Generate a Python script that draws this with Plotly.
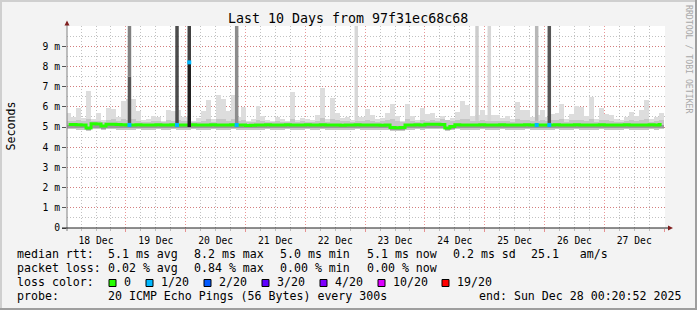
import pandas as pd
import plotly.graph_objects as go

# ---------------- data ----------------
title_text = "Last 10 Days from 97f31ec68c68"
t_start = "2025-12-18 00:20:52"
t_end = "2025-12-28 00:20:52"
first_bin = "2025-12-18 01:00"
bin_hours = 2

# upper envelope of the smoke (ms), one value per 2-hour bin
p_max = [
    5.68, 5.5, 5.95, 5.45, 6.8, 5.4, 5.7, 5.35, 5.95, 5.88, 5.5, 6.3, 6.4, 6.37, 5.8, 5.35, 5.4, 5.55, 5.5, 5.3, 5.85, 5.8, 5.85, 5.5,
    5.5, 5.3, 5.45, 5.8, 6.34, 5.4, 6.58, 6.37, 5.79, 6.58, 5.5, 6.0, 5.3, 5.4, 6.04, 5.55, 5.35, 5.3, 5.5, 5.4, 5.3, 6.75, 5.35, 5.45,
    5.4, 5.35, 5.6, 6.91, 5.4, 6.42, 5.7, 5.45, 5.5, 5.35, 5.5, 5.5, 5.88, 5.6, 5.4, 5.45, 5.7, 6.14, 5.55, 5.3, 6.14, 5.55, 5.35, 5.93,
    5.65, 5.7, 5.45, 5.55, 5.3, 5.45, 5.75, 6.3, 6.09, 5.55, 5.6, 5.84, 5.6, 5.6, 5.6, 5.45, 5.55, 5.4, 6.25, 5.84, 5.84, 5.5, 5.6, 5.84,
    5.5, 5.65, 5.7, 6.12, 5.4, 5.65, 6.04, 5.98, 5.55, 6.47, 5.4, 5.93, 5.65, 5.6, 5.4, 5.35, 5.5, 5.75, 5.55, 5.84, 6.34, 5.4, 5.5, 5.68,
]
# top of the denser smoke band (ms)
p_q3 = [
    5.3, 5.28, 5.35, 5.3, 5.4, 5.3, 5.32, 5.25, 5.35, 5.38, 5.3, 5.4, 5.36, 5.4, 5.3, 5.25, 5.27, 5.3, 5.3, 5.24, 5.33, 5.32, 5.35, 5.28,
    5.3, 5.24, 5.27, 5.32, 5.38, 5.27, 5.4, 5.4, 5.32, 5.42, 5.3, 5.35, 5.24, 5.26, 5.35, 5.3, 5.25, 5.24, 5.3, 5.27, 5.24, 5.4, 5.25, 5.28,
    5.27, 5.25, 5.32, 5.45, 5.27, 5.4, 5.33, 5.28, 5.3, 5.25, 5.3, 5.3, 5.36, 5.32, 5.27, 5.28, 5.33, 5.38, 5.3, 5.24, 5.38, 5.3, 5.26, 5.36,
    5.32, 5.33, 5.28, 5.4, 5.35, 5.3, 5.35, 5.4, 5.38, 5.3, 5.32, 5.36, 5.32, 5.32, 5.32, 5.28, 5.3, 5.27, 5.4, 5.36, 5.36, 5.3, 5.32, 5.36,
    5.3, 5.33, 5.33, 5.38, 5.27, 5.33, 5.37, 5.36, 5.3, 5.4, 5.27, 5.36, 5.33, 5.32, 5.27, 5.25, 5.3, 5.34, 5.3, 5.36, 5.4, 5.27, 5.3, 5.33,
]
# median rtt (ms)
median_rtt = [
    5.12, 5.12, 5.11, 5.1, 4.95, 5.16, 5.15, 5.05, 5.14, 5.13, 5.12, 5.11, 5.1, 5.1, 5.11, 5.1, 5.1, 5.1, 5.11, 5.1, 5.1, 5.11, 5.1, 5.1,
    5.1, 5.11, 5.1, 5.1, 5.1, 5.11, 5.1, 5.1, 5.1, 5.11, 5.1, 5.1, 5.08, 5.09, 5.1, 5.1, 5.11, 5.1, 5.1, 5.1, 5.11, 5.1, 5.1, 5.1,
    5.11, 5.1, 5.1, 5.11, 5.1, 5.1, 5.1, 5.09, 5.1, 5.1, 5.11, 5.1, 5.1, 5.1, 5.1, 5.09, 5.1, 4.97, 4.96, 4.97, 5.1, 5.1, 5.11, 5.1,
    5.13, 5.14, 5.13, 5.12, 4.95, 5.02, 5.11, 5.1, 5.1, 5.1, 5.1, 5.11, 5.1, 5.1, 5.1, 5.11, 5.1, 5.1, 5.1, 5.1, 5.11, 5.1, 5.1, 5.1,
    5.1, 5.1, 5.11, 5.1, 5.1, 5.1, 5.11, 5.1, 5.1, 5.1, 5.1, 5.11, 5.1, 5.1, 5.1, 5.1, 5.11, 5.1, 5.1, 5.1, 5.1, 5.11, 5.1, 5.12,
]
# lower edge of the dense band just below the median (ms)
p_low = [
    4.96, 4.96, 4.95, 4.95, 4.84, 4.97, 4.96, 4.92, 4.96, 4.96, 4.95, 4.95, 4.95, 4.95, 4.96, 4.95, 4.95, 4.95, 4.96, 4.95, 4.95, 4.96, 4.95, 4.95,
    4.95, 4.96, 4.95, 4.95, 4.95, 4.96, 4.95, 4.95, 4.95, 4.96, 4.95, 4.95, 4.93, 4.94, 4.95, 4.95, 4.96, 4.95, 4.95, 4.95, 4.96, 4.95, 4.95, 4.95,
    4.96, 4.95, 4.95, 4.96, 4.95, 4.95, 4.95, 4.94, 4.95, 4.95, 4.96, 4.95, 4.95, 4.95, 4.95, 4.94, 4.95, 4.86, 4.85, 4.86, 4.95, 4.95, 4.96, 4.95,
    4.97, 4.97, 4.97, 4.96, 4.84, 4.9, 4.96, 4.95, 4.95, 4.95, 4.95, 4.96, 4.95, 4.95, 4.95, 4.96, 4.95, 4.95, 4.95, 4.95, 4.96, 4.95, 4.95, 4.95,
    4.95, 4.95, 4.96, 4.95, 4.95, 4.95, 4.96, 4.95, 4.95, 4.95, 4.95, 4.96, 4.95, 4.95, 4.95, 4.95, 4.96, 4.95, 4.95, 4.95, 4.95, 4.96, 4.95, 4.96,
]
# lowest ping (ms)
p_min = [
    4.88, 4.88, 4.87, 4.87, 4.78, 4.89, 4.88, 4.84, 4.88, 4.88, 4.87, 4.87, 4.87, 4.87, 4.88, 4.87, 4.87, 4.87, 4.88, 4.87, 4.87, 4.88, 4.87, 4.87,
    4.87, 4.88, 4.87, 4.87, 4.87, 4.88, 4.87, 4.87, 4.87, 4.88, 4.87, 4.87, 4.85, 4.86, 4.87, 4.87, 4.88, 4.87, 4.87, 4.87, 4.88, 4.87, 4.87, 4.87,
    4.88, 4.87, 4.87, 4.88, 4.87, 4.87, 4.87, 4.86, 4.87, 4.87, 4.88, 4.87, 4.87, 4.87, 4.87, 4.86, 4.87, 4.8, 4.79, 4.8, 4.87, 4.87, 4.88, 4.87,
    4.89, 4.89, 4.89, 4.88, 4.78, 4.83, 4.88, 4.87, 4.87, 4.87, 4.87, 4.88, 4.87, 4.87, 4.87, 4.88, 4.87, 4.87, 4.87, 4.87, 4.88, 4.87, 4.87, 4.87,
    4.87, 4.87, 4.88, 4.87, 4.87, 4.87, 4.88, 4.87, 4.87, 4.87, 4.87, 4.88, 4.87, 4.87, 4.87, 4.87, 4.88, 4.87, 4.87, 4.87, 4.87, 4.88, 4.87, 4.88,
]

# short high-latency episodes: time, lower / upper rtt (ms), pings in that range
spike_time = ["2025-12-19 01:25", "2025-12-19 01:25", "2025-12-19 20:30", "2025-12-20 01:25",
              "2025-12-20 01:25", "2025-12-20 20:27", "2025-12-22 20:27", "2025-12-24 20:54",
              "2025-12-25 01:50", "2025-12-25 20:51", "2025-12-26 01:55"]
spike_low = [5.2, 7.5, 5.2, 5.0, 8.2, 5.2, 5.3, 5.3, 5.3, 5.3, 5.2]
spike_high = [7.5, 10.5, 10.5, 8.2, 10.5, 10.5, 10.5, 10.5, 10.5, 10.5, 10.5]
spike_pings = [13, 9, 14, 18, 15, 8, 1, 2, 1, 4, 13]

# intervals with packet loss: time, median rtt (ms), lost pings of 20
loss_time = ["2025-12-19 01:25", "2025-12-19 20:30", "2025-12-20 01:25",
             "2025-12-20 20:27", "2025-12-25 20:51", "2025-12-26 01:55"]
loss_rtt = [5.1, 5.1, 8.2, 5.1, 5.1, 5.1]
loss_count = [1, 1, 1, 1, 1, 1]

y_tick_vals = [0, 1, 2, 3, 4, 5, 6, 7, 8, 9]
y_tick_text = ["0", "1 m", "2 m", "3 m", "4 m", "5 m", "6 m", "7 m", "8 m", "9 m"]

legend_loss = [0, 1, 2, 3, 4, 10, 19]
legend_labels = ["0", "1/20", "2/20", "3/20", "4/20", "10/20", "19/20"]
rtt_stats = ["5.1 ms avg", "8.2 ms max", "5.0 ms min", "5.1 ms now", "0.2 ms sd", "25.1   am/s"]
loss_stats = ["0.02 % avg", "0.84 % max", "0.00 % min", "0.00 % now"]
probe_text = "20 ICMP Echo Pings (56 Bytes) every 300s"
end_text = "end: Sun Dec 28 00:20:52 2025"

# ---------------- styling ----------------
W, H = 697, 310
PL, PR, PT, PB = 67, 665, 26, 228
MONO = "DejaVu Sans Mono"
loss_palette = {0: "#26ff00", 1: "#00b8ff", 2: "#0059ff", 3: "#5e00ff",
                4: "#7e00ff", 10: "#dd00ff", 19: "#ff0000"}
MGRID = "rgba(222,80,80,0.6)"
GRID = "rgba(143,143,143,0.55)"
ARROW = "#801f1f"


def fx(p):
    return (p - PL) / (PR - PL)


def fy(p):
    return (PB - p) / (PB - PT)


def nb(s):
    return s.replace(" ", "\u00a0")


fig = go.Figure()

bins = pd.date_range(first_bin, periods=len(median_rtt), freq=f"{bin_hours}h")
bw = bin_hours * 3600 * 1000


def band(lo, hi, color):
    return go.Bar(x=bins, y=[h - l for l, h in zip(lo, hi)], base=lo, width=bw,
                  marker=dict(color=color, line=dict(width=0)), opacity=1,
                  hoverinfo="skip", showlegend=False)


fig.add_trace(band(p_min, p_max, "#dddddd"))
fig.add_trace(band(p_min, p_q3, "#c6c6c6"))
fig.add_trace(band(p_low, median_rtt, "#9a9a9a"))

fig.add_trace(go.Scatter(x=bins, y=median_rtt, mode="lines",
                         line=dict(color=loss_palette[0], width=3, shape="hvh"),
                         hoverinfo="skip", showlegend=False))

half = pd.Timedelta(minutes=42)
for t, lo, hi, n in zip(spike_time, spike_low, spike_high, spike_pings):
    t = pd.Timestamp(t)
    g = int(round(226 - 10.8 * n))
    fig.add_trace(go.Scatter(x=[t - half, t + half, t + half, t - half, t - half],
                             y=[lo, lo, hi, hi, lo], mode="lines", fill="toself",
                             fillcolor=f"rgb({g},{g},{g})", line=dict(width=0),
                             hoverinfo="skip", showlegend=False))

fig.add_trace(go.Scatter(x=pd.to_datetime(loss_time), y=loss_rtt, mode="markers",
                         marker=dict(symbol="square", size=4,
                                     color=[loss_palette[c] for c in loss_count],
                                     line=dict(width=0)),
                         hoverinfo="skip", showlegend=False))

fig.update_layout(
    width=W, height=H,
    margin=dict(l=PL, r=W - PR, t=PT, b=H - PB, pad=0),
    paper_bgcolor="#f3f3f3", plot_bgcolor="#ffffff",
    barmode="overlay", bargap=0, showlegend=False,
    font=dict(family=MONO, size=9.7, color="#000000"),
)

fig.update_xaxes(
    type="date", range=[t_start, t_end],
    tick0="2025-12-18", dtick=86400000, ticklabelmode="period", tickformat="%d %b",
    showgrid=True, gridcolor=MGRID, griddash="1px,2px", gridwidth=1,
    ticks="outside", ticklen=3, tickcolor=MGRID, tickwidth=1,
    minor=dict(dtick=6 * 3600 * 1000, showgrid=True, gridcolor=GRID, griddash="1px,2px",
               ticks="outside", ticklen=2, tickcolor=GRID),
    showline=False, zeroline=False, fixedrange=True,
    tickfont=dict(family=MONO, size=9.7),
)
fig.update_yaxes(
    range=[0, 10], tickmode="array", tickvals=y_tick_vals, ticktext=y_tick_text,
    showgrid=True, gridcolor=MGRID, griddash="1px,2px", gridwidth=1,
    ticks="outside", ticklen=4, tickcolor="#555555", tickwidth=1,
    minor=dict(tickmode="linear", tick0=0, dtick=0.5, showgrid=True, gridcolor=GRID,
               griddash="1px,2px"),
    showline=False, zeroline=False, fixedrange=True,
    tickfont=dict(family=MONO, size=9.7),
)

shapes = []
# frame
shapes.append(dict(type="rect", xref="paper", yref="paper", x0=fx(0), x1=fx(W), y0=fy(0), y1=fy(2),
                   fillcolor="#cfcfcf", line=dict(width=0), layer="above"))
shapes.append(dict(type="rect", xref="paper", yref="paper", x0=fx(0), x1=fx(2), y0=fy(0), y1=fy(H),
                   fillcolor="#cfcfcf", line=dict(width=0), layer="above"))
shapes.append(dict(type="rect", xref="paper", yref="paper", x0=fx(0), x1=fx(W), y0=fy(H - 2), y1=fy(H),
                   fillcolor="#9e9e9e", line=dict(width=0), layer="above"))
shapes.append(dict(type="rect", xref="paper", yref="paper", x0=fx(W - 2), x1=fx(W), y0=fy(0), y1=fy(H),
                   fillcolor="#9e9e9e", line=dict(width=0), layer="above"))
# axes
shapes.append(dict(type="line", xref="paper", yref="paper", x0=fx(67), x1=fx(67), y0=fy(231), y1=fy(22),
                   line=dict(color="#808080", width=1), layer="above"))
shapes.append(dict(type="line", xref="paper", yref="paper", x0=fx(62), x1=fx(669), y0=fy(228), y1=fy(228),
                   line=dict(color="#1f1f1f", width=1), layer="above"))
# arrows
shapes.append(dict(type="path", xref="paper", yref="paper",
                   path=f"M {fx(64.5)} {fy(25.5)} L {fx(69.5)} {fy(25.5)} L {fx(67)} {fy(20.5)} Z",
                   fillcolor=ARROW, line=dict(width=0), layer="above"))
shapes.append(dict(type="path", xref="paper", yref="paper",
                   path=f"M {fx(668)} {fy(225.5)} L {fx(668)} {fy(230.5)} L {fx(673)} {fy(228)} Z",
                   fillcolor=ARROW, line=dict(width=0), layer="above"))

annotations = []


def text(x, y, s, size=11.6, anchor="left", angle=0, color="#000000"):
    annotations.append(dict(x=fx(x), y=fy(y), xref="paper", yref="paper", text=nb(s),
                            showarrow=False, xanchor=anchor, yanchor="middle",
                            textangle=angle, borderpad=0,
                            font=dict(family=MONO, size=size, color=color)))


text(348, 19, title_text, size=13.3, anchor="center")
text(10.5, 126, "Seconds", size=11.6, anchor="center", angle=-90)
text(689, 59, "RRDTOOL / TOBI OETIKER", size=8.2, anchor="center", angle=90, color="#a8a8a8")

seg_x = [107, 193, 279, 365.5, 451.5, 530]
row_y = [254, 268, 282, 296]
text(16, row_y[0], "median rtt:")
for x, s in zip(seg_x, rtt_stats):
    text(x, row_y[0], s)
text(16, row_y[1], "packet loss:")
for x, s in zip(seg_x, loss_stats):
    text(x, row_y[1], s)
text(16, row_y[2], "loss color:")
sq_x = [109, 146, 204, 262, 320, 378, 442]
for x, lab, lc in zip(sq_x, legend_labels, legend_loss):
    shapes.append(dict(type="rect", xref="paper", yref="paper", x0=fx(x), x1=fx(x + 7),
                       y0=fy(286.5), y1=fy(279.5), fillcolor=loss_palette[lc],
                       line=dict(color="#000000", width=1), layer="above"))
    text(x + 14, row_y[2], lab)
text(16, row_y[3], "probe:")
text(107, row_y[3], probe_text)
text(478, row_y[3], end_text)

fig.update_layout(shapes=shapes, annotations=annotations)
fig.write_html("out.html")
